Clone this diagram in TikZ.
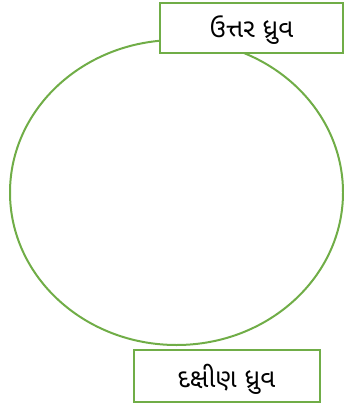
\documentclass[tikz,border=0pt]{standalone}
\usepackage{fontspec}
\newfontfamily\gujfont[Script=Gujarati]{Noto Sans Gujarati UI}
\usepackage{tikz}
\usetikzlibrary{shapes.geometric}
\definecolor{polegreen}{RGB}{112,173,71}

\begin{document}
\begin{tikzpicture}[x=1pt, y=-1pt,
  earth/.style={draw=polegreen, line width=2pt},
  label/.style={draw=polegreen, line width=2pt, fill=white,
                minimum width=183pt, minimum height=50pt, inner sep=0pt,
                text height=20pt, text depth=0pt,
                font=\gujfont\fontsize{26}{30}\selectfont}
]
  \useasboundingbox (0,0) rectangle (344,406);
  \node[earth, ellipse, minimum width=333pt, minimum height=305pt, inner sep=0pt] (globe) at (176.5,192.5) {};
  \node[label] (north) at (251.5,28) {ઉત્તર ધ્રુવ};
  \node[label, minimum width=186pt, minimum height=52pt, text height=23pt] (south) at (226.5,376) {દક્ષીણ ધ્રુવ};
\end{tikzpicture}
\end{document}
